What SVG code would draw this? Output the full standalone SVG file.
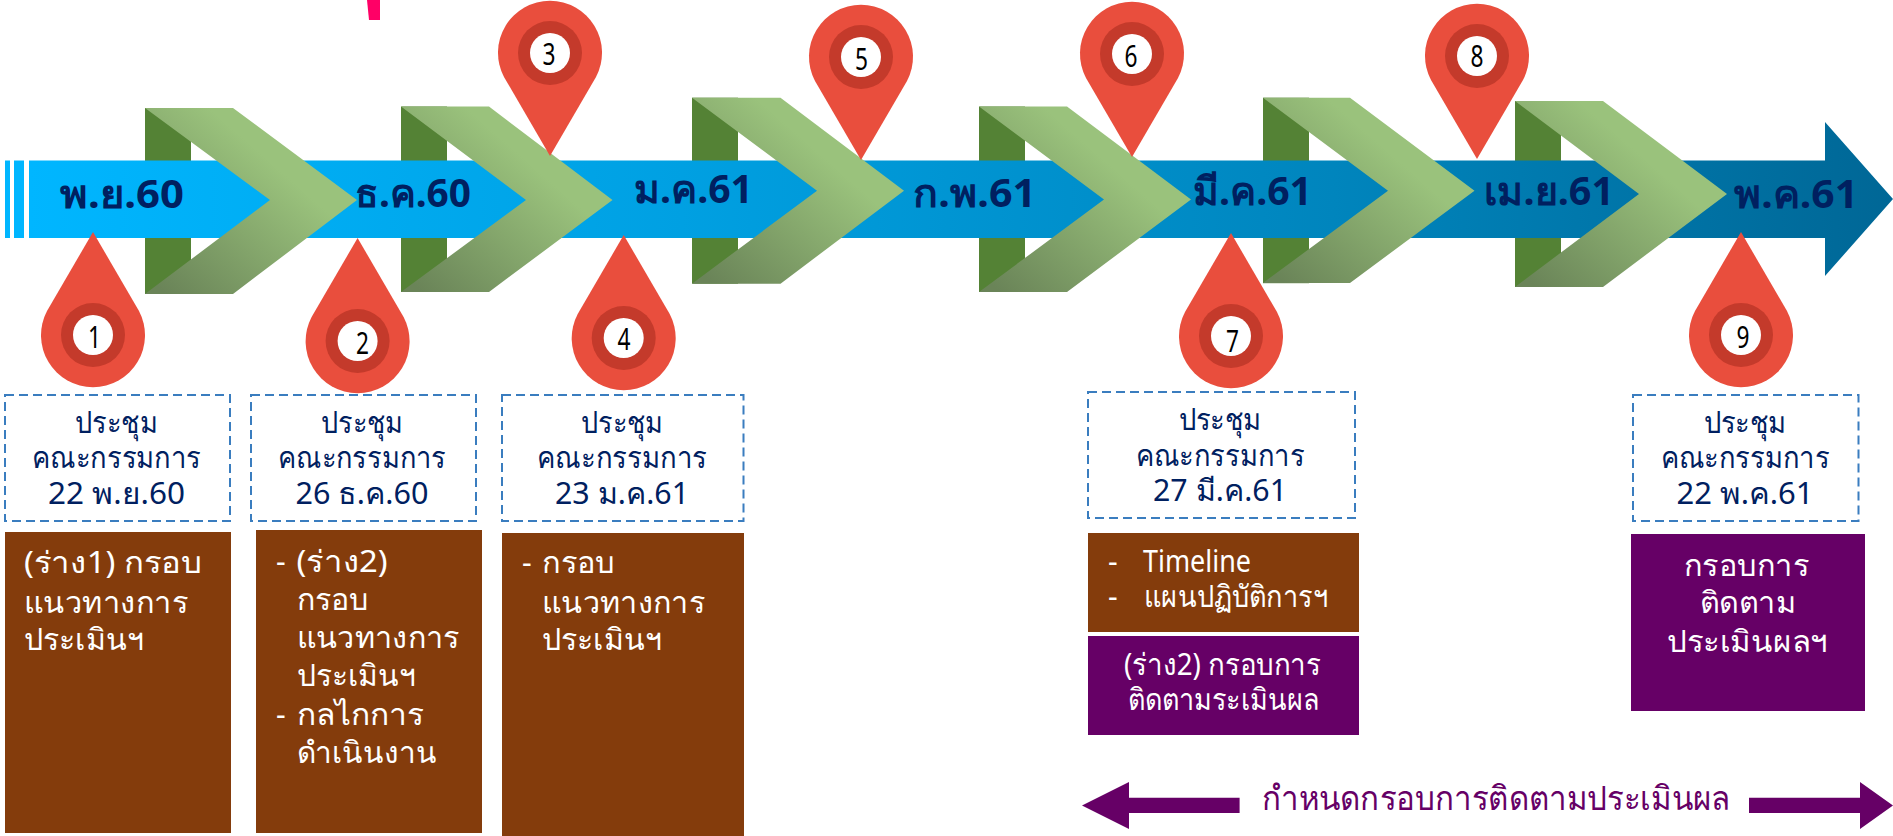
<svg xmlns="http://www.w3.org/2000/svg" width="1893" height="836" viewBox="0 0 1893 836">
<style>
text{font-family:"Noto Sans","DejaVu Sans","Liberation Sans",sans-serif}
.m{font-size:39px;font-weight:700;fill:#002060}
.d{font-size:30px;fill:#002060;text-anchor:middle}
.w{font-size:30px;fill:#fff}
.n{font-size:30px;fill:#000;text-anchor:middle}
.dash{fill:#fff;stroke:#3a7dbf;stroke-width:2;stroke-dasharray:9 5}
.br{fill:#843c0c}.pu{fill:#660066}
.back{fill:#548235}.chev{fill:url(#cg)}
.o{fill:#e94e3d}.r{fill:#c43a2b}.c{fill:#fff}
</style>
<defs>
<linearGradient id="bar" x1="0" x2="1" y1="0" y2="0"><stop offset="0" stop-color="#00b6ff"/><stop offset="0.35" stop-color="#00a0e2"/><stop offset="0.7" stop-color="#0085bd"/><stop offset="1" stop-color="#006796"/></linearGradient>
<linearGradient id="cg" x1="0.1" y1="1" x2="0.7" y2="0.4"><stop offset="0" stop-color="#6a8458"/><stop offset="1" stop-color="#9ac27c"/></linearGradient>
<path id="up" d="M0 103L-46 24A52 52 0 1 1 46 24Z"/>
<path id="dn" d="M0-103L-46-24A52 52 0 1 0 46-24Z"/>
</defs>
<rect width="1893" height="836" fill="#fff"/>
<polygon points="367,0 380,0 380,20 369,20" fill="#ff0066"/>
<g id="chevron-backs">
<rect class="back" x="145" y="108" width="46" height="186"/>
<rect class="back" x="401" y="106.500" width="46" height="185.500"/>
<rect class="back" x="692" y="97.700" width="46" height="186"/>
<rect class="back" x="979" y="106.500" width="46" height="185.500"/>
<rect class="back" x="1263" y="97.700" width="46" height="185.500"/>
<rect class="back" x="1515" y="101" width="46" height="186"/>
</g>
<g id="timeline">
<rect x="5" y="160.500" width="5" height="77.500" fill="#00b6ff"/>
<rect x="14" y="160.500" width="10" height="77.500" fill="#00b6ff"/>
<polygon fill="url(#bar)" points="29,160.500 1825,160.500 1825,122 1893,199 1825,276 1825,238 29,238"/>
</g>
<g id="chevrons">
<polygon class="chev" points="145,108 233,108 357,200 233,294 145,294 270,200"/>
<polygon class="chev" points="401,106.500 489,106.500 612.500,200 489,292 401,292 526,200"/>
<polygon class="chev" points="692,97.700 780.500,97.700 904,190.700 780.500,283.700 692,283.700 817,190.700"/>
<polygon class="chev" points="979,106.500 1067,106.500 1191,199.500 1067,292 979,292 1104,199.500"/>
<polygon class="chev" points="1263,97.700 1350,97.700 1474.500,190.700 1350,283 1263,283 1388,190.700"/>
<polygon class="chev" points="1515,101 1603,101 1727,194 1603,287 1515,287 1639,194"/>
</g>
<g id="months">
<text class="m" x="60" y="208" textLength="124" lengthAdjust="spacingAndGlyphs">พ.ย.60</text>
<text class="m" x="355" y="206.700" textLength="116" lengthAdjust="spacingAndGlyphs">ธ.ค.60</text>
<text class="m" x="634" y="203" textLength="119" lengthAdjust="spacingAndGlyphs">ม.ค.61</text>
<text class="m" x="913" y="206.700" textLength="123" lengthAdjust="spacingAndGlyphs">ก.พ.61</text>
<text class="m" x="1193" y="205" textLength="119" lengthAdjust="spacingAndGlyphs">มี.ค.61</text>
<text class="m" x="1484" y="205" textLength="130" lengthAdjust="spacingAndGlyphs">เม.ย.61</text>
<text class="m" x="1734" y="208" textLength="124" lengthAdjust="spacingAndGlyphs">พ.ค.61</text>
</g>
<g id="pin-1" transform="translate(93 335)"><use href="#dn" class="o"/><circle class="r" r="32"/><circle class="c" r="20"/><text class="n" x="1.500" y="13" textLength="13" lengthAdjust="spacingAndGlyphs">1</text></g>
<g id="pin-2" transform="translate(357.600 341)"><use href="#dn" class="o"/><circle class="r" r="32"/><circle class="c" r="20"/><text class="n" x="5" y="13" textLength="13" lengthAdjust="spacingAndGlyphs">2</text></g>
<g id="pin-3" transform="translate(550 53)"><use href="#up" class="o"/><circle class="r" r="32"/><circle class="c" r="20"/><text class="n" x="-1" y="12" textLength="13" lengthAdjust="spacingAndGlyphs">3</text></g>
<g id="pin-4" transform="translate(623.700 338)"><use href="#dn" class="o"/><circle class="r" r="32"/><circle class="c" r="20"/><text class="n" x="0.300" y="12" textLength="13" lengthAdjust="spacingAndGlyphs">4</text></g>
<g id="pin-5" transform="translate(861 57)"><use href="#up" class="o"/><circle class="r" r="32"/><circle class="c" r="20"/><text class="n" x="0.400" y="13" textLength="13" lengthAdjust="spacingAndGlyphs">5</text></g>
<g id="pin-6" transform="translate(1132 54)"><use href="#up" class="o"/><circle class="r" r="32"/><circle class="c" r="20"/><text class="n" x="-1" y="12.500" textLength="13" lengthAdjust="spacingAndGlyphs">6</text></g>
<g id="pin-7" transform="translate(1231 336)"><use href="#dn" class="o"/><circle class="r" r="32"/><circle class="c" r="20"/><text class="n" x="1.500" y="15.500" textLength="13" lengthAdjust="spacingAndGlyphs">7</text></g>
<g id="pin-8" transform="translate(1477 56)"><use href="#up" class="o"/><circle class="r" r="32"/><circle class="c" r="20"/><text class="n" y="10.500" textLength="13" lengthAdjust="spacingAndGlyphs">8</text></g>
<g id="pin-9" transform="translate(1741 335)"><use href="#dn" class="o"/><circle class="r" r="32"/><circle class="c" r="20"/><text class="n" x="2" y="13" textLength="13" lengthAdjust="spacingAndGlyphs">9</text></g>
<g id="meeting-1"><rect class="dash" x="5" y="395" width="225" height="126"/><text class="d" x="116.500" y="433" textLength="82.500" lengthAdjust="spacingAndGlyphs">ประชุม</text><text class="d" x="116.500" y="468" textLength="169" lengthAdjust="spacingAndGlyphs">คณะกรรมการ</text><text class="d" x="116.500" y="504" textLength="137" lengthAdjust="spacingAndGlyphs">22 พ.ย.60</text></g>
<g id="meeting-2"><rect class="dash" x="251" y="395" width="225" height="126"/><text class="d" x="362" y="433" textLength="82" lengthAdjust="spacingAndGlyphs">ประชุม</text><text class="d" x="362" y="468" textLength="168" lengthAdjust="spacingAndGlyphs">คณะกรรมการ</text><text class="d" x="362" y="504" textLength="133" lengthAdjust="spacingAndGlyphs">26 ธ.ค.60</text></g>
<g id="meeting-3"><rect class="dash" x="502" y="395" width="241.500" height="126"/><text class="d" x="622" y="433" textLength="82" lengthAdjust="spacingAndGlyphs">ประชุม</text><text class="d" x="622" y="468" textLength="170" lengthAdjust="spacingAndGlyphs">คณะกรรมการ</text><text class="d" x="622" y="504" textLength="134" lengthAdjust="spacingAndGlyphs">23 ม.ค.61</text></g>
<g id="meeting-4"><rect class="dash" x="1088" y="392" width="267" height="126"/><text class="d" x="1220" y="430" textLength="83" lengthAdjust="spacingAndGlyphs">ประชุม</text><text class="d" x="1220" y="465.500" textLength="169" lengthAdjust="spacingAndGlyphs">คณะกรรมการ</text><text class="d" x="1220" y="501" textLength="134" lengthAdjust="spacingAndGlyphs">27 มี.ค.61</text></g>
<g id="meeting-5"><rect class="dash" x="1633" y="395" width="225.500" height="126"/><text class="d" x="1745" y="433" textLength="83" lengthAdjust="spacingAndGlyphs">ประชุม</text><text class="d" x="1745" y="468" textLength="169" lengthAdjust="spacingAndGlyphs">คณะกรรมการ</text><text class="d" x="1745" y="504" textLength="137" lengthAdjust="spacingAndGlyphs">22 พ.ค.61</text></g>
<g id="note-1"><rect class="br" x="5" y="532" width="226" height="301"/><text class="w" x="24" y="573" textLength="178" lengthAdjust="spacingAndGlyphs">(ร่าง1) กรอบ</text><text class="w" x="24" y="612.700" textLength="164" lengthAdjust="spacingAndGlyphs">แนวทางการ</text><text class="w" x="24" y="650" textLength="120" lengthAdjust="spacingAndGlyphs">ประเมินฯ</text></g>
<g id="note-2"><rect class="br" x="256" y="530" width="226" height="303"/><text class="w" x="276" y="571.700">-</text><text class="w" x="296.600" y="571.700" textLength="91" lengthAdjust="spacingAndGlyphs">(ร่าง2)</text><text class="w" x="296.600" y="610" textLength="72" lengthAdjust="spacingAndGlyphs">กรอบ</text><text class="w" x="296.600" y="647.700" textLength="163" lengthAdjust="spacingAndGlyphs">แนวทางการ</text><text class="w" x="296.600" y="686" textLength="119" lengthAdjust="spacingAndGlyphs">ประเมินฯ</text><text class="w" x="276" y="725">-</text><text class="w" x="296.600" y="725" textLength="127" lengthAdjust="spacingAndGlyphs">กลไกการ</text><text class="w" x="296.600" y="763" textLength="140" lengthAdjust="spacingAndGlyphs">ดำเนินงาน</text></g>
<g id="note-3"><rect class="br" x="502" y="533" width="242" height="303"/><text class="w" x="522" y="573">-</text><text class="w" x="542" y="573" textLength="73" lengthAdjust="spacingAndGlyphs">กรอบ</text><text class="w" x="542" y="612.700" textLength="163" lengthAdjust="spacingAndGlyphs">แนวทางการ</text><text class="w" x="542" y="650" textLength="120" lengthAdjust="spacingAndGlyphs">ประเมินฯ</text></g>
<g id="note-4"><rect class="br" x="1088" y="533" width="271" height="99"/><text class="w" x="1108" y="571.700">-</text><text class="w" x="1143" y="571.700" textLength="108" lengthAdjust="spacingAndGlyphs">Timeline</text><text class="w" x="1108" y="606.700">-</text><text class="w" x="1144" y="606.700" textLength="184" lengthAdjust="spacingAndGlyphs">แผนปฏิบัติการฯ</text></g>
<g id="note-5"><rect class="pu" x="1088" y="636" width="271" height="99"/><text class="w" x="1124" y="675" textLength="197" lengthAdjust="spacingAndGlyphs">(ร่าง2) กรอบการ</text><text class="w" x="1127.500" y="710" textLength="191.500" lengthAdjust="spacingAndGlyphs">ติดตามระเมินผล</text></g>
<g id="note-6"><rect class="pu" x="1631" y="534" width="234" height="177"/><text class="w" x="1684" y="576" textLength="125" lengthAdjust="spacingAndGlyphs">กรอบการ</text><text class="w" x="1700" y="613" textLength="96" lengthAdjust="spacingAndGlyphs">ติดตาม</text><text class="w" x="1667" y="651.700" textLength="161" lengthAdjust="spacingAndGlyphs">ประเมินผลฯ</text></g>
<g id="connectors" class="pu">
<polygon points="1082,805.500 1129,782 1129,797.700 1239.600,797.700 1239.600,813 1129,813 1129,829"/>
<polygon points="1893,805.500 1860,782 1860,797.700 1749,797.700 1749,813 1860,813 1860,829"/>
</g>
<text x="1262" y="810" font-size="34" fill="#660066" textLength="468.500" lengthAdjust="spacingAndGlyphs">กำหนดกรอบการติดตามประเมินผล</text>
</svg>
